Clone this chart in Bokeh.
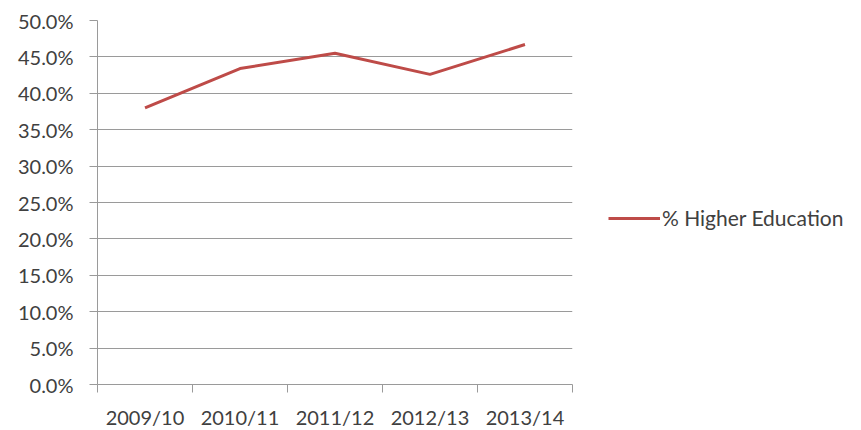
from bokeh.plotting import figure
from bokeh.models import Range1d, FixedTicker, NumeralTickFormatter, Legend, LegendItem
from bokeh.embed import file_html
from bokeh.resources import INLINE

categories = ["2009/10", "2010/11", "2011/12", "2012/13", "2013/14"]
higher_education = [0.380, 0.434, 0.455, 0.426, 0.467]
y_ticks = [0.0, 0.05, 0.10, 0.15, 0.20, 0.25, 0.30, 0.35, 0.40, 0.45, 0.50]
series_name = "% Higher Education"

FONT = "Lato"
TXT = "#404040"
GRID = "#9a9a9a"
FS = "20px"

xs = list(range(len(categories)))

p = figure(frame_width=475, frame_height=364, output_backend="svg", toolbar_location=None,
           x_range=Range1d(-0.5, len(categories) - 0.5), y_range=Range1d(0, 0.5),
           min_border_left=97, min_border_top=20, min_border_bottom=38, min_border_right=270)
p.outline_line_color = None
p.background_fill_color = "white"

r = p.line(xs, higher_education, line_color="#BE4B48", line_width=3)

# x axis: labels at category centres, tick marks between categories
p.xaxis.ticker = FixedTicker(ticks=xs, minor_ticks=[i - 0.5 for i in range(len(categories) + 1)])
p.xaxis.major_label_overrides = {i: c for i, c in enumerate(categories)}
p.xaxis.major_tick_line_color = None
p.xaxis.major_tick_out = 0
p.xaxis.major_tick_in = 0
p.xaxis.minor_tick_line_color = GRID
p.xaxis.minor_tick_out = 8
p.xaxis.minor_tick_in = 0
p.xaxis.axis_line_color = GRID
p.xaxis.major_label_standoff = 12
p.xaxis.major_label_text_font = FONT
p.xaxis.major_label_text_font_size = FS
p.xaxis.major_label_text_color = TXT
p.xgrid.grid_line_color = None

p.yaxis.ticker = FixedTicker(ticks=y_ticks)
p.yaxis.formatter = NumeralTickFormatter(format="0.0%")
p.yaxis.axis_line_color = GRID
p.yaxis.major_tick_line_color = GRID
p.yaxis.major_tick_out = 8
p.yaxis.major_tick_in = 0
p.yaxis.minor_tick_line_color = None
p.yaxis.major_label_standoff = 16
p.yaxis.major_label_text_font = FONT
p.yaxis.major_label_text_font_size = FS
p.yaxis.major_label_text_color = TXT
p.ygrid.grid_line_color = GRID
p.ygrid.ticker = FixedTicker(ticks=y_ticks)

legend = Legend(items=[LegendItem(label=series_name, renderers=[r])],
                location=(36, 154), border_line_color=None, background_fill_alpha=0,
                label_text_font=FONT, label_text_font_size="21px", label_text_color=TXT,
                glyph_width=52, label_standoff=2, padding=0, margin=0)
p.add_layout(legend, "right")

open("out.html", "w").write(file_html(p, INLINE))
